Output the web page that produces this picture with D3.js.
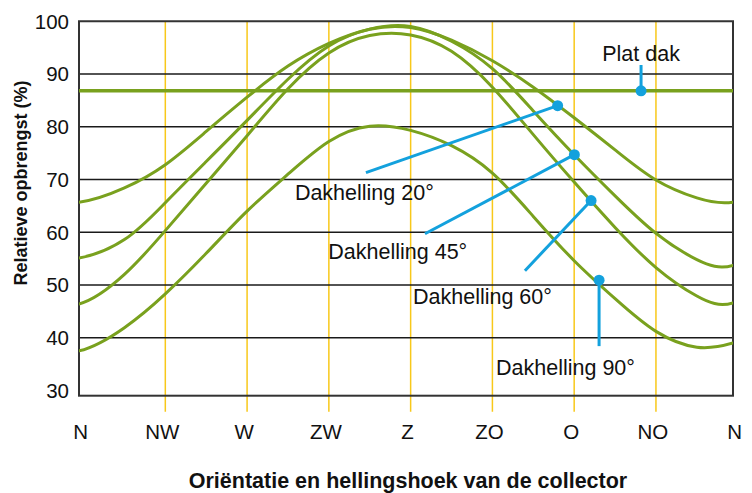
<!DOCTYPE html>
<html>
<head>
<meta charset="utf-8">
<script src="https://cdn.jsdelivr.net/npm/d3@7"></script>
<style>
  body { margin: 0; background: #fff; }
  text { font-family: "Liberation Sans", Arial, sans-serif; }
</style>
</head>
<body>
<div id="chart-area"></div>
<script>
// compass angle: 0 = N, 90 = W, 180 = Z, 270 = O, 360 = N
const directions = ["N", "NW", "W", "ZW", "Z", "ZO", "O", "NO", "N"];
const directionAngles = [0, 45, 90, 135, 180, 225, 270, 315, 360];
const yTicks = [30, 40, 50, 60, 70, 80, 90, 100];

// first and last points lie just outside the frame (wrap-around of the compass)
const angles = [-22.5, -2.5, 22.5, 45, 67.5, 90, 112.5, 135, 157.5, 180, 202.5, 225, 247.5, 270, 292.5, 315, 337.5, 357.4, 382.5];
const dak20 = [66.5, 65.7, 68.4, 72.8, 79.1, 85.6, 91.5, 95.8, 98.5, 98.8, 96.4, 92.5, 87.5, 81.7, 75.6, 69.9, 66.5, 65.7, 68.4];
const dak45 = [55.0, 55.1, 58.6, 65.6, 73.4, 81.2, 89.0, 95.3, 98.5, 99.0, 96.2, 91.0, 83.0, 74.7, 66.9, 59.8, 54.8, 53.7, 58.6];
const dak60 = [47.5, 46.4, 52.0, 60.3, 69.3, 78.3, 87.2, 94.0, 97.3, 97.4, 94.3, 87.5, 78.5, 69.5, 60.9, 53.3, 47.9, 46.6, 52.0];
const dak90 = [38.2, 37.5, 41.9, 48.3, 56.0, 64.0, 71.0, 77.2, 80.1, 79.3, 76.4, 71.2, 63.0, 54.6, 47.4, 41.2, 38.2, 39.0, 41.9];
const platDak = 86.8;

// callouts: point on the curve, end of the pointer line, label anchor (all in angle / %)
const callouts = [
  {label: "Plat dak",       dot: [306.8, 86.8], end: [306.8, 91.7], text: [306.8, 92.4], anchor: "middle"},
  {label: "Dakhelling 20°", dot: [260.9, 84.0], end: [155.4, 71.3], text: [116.3, 66.2], anchor: "start"},
  {label: "Dakhelling 45°", dot: [270.1, 74.7], end: [187.9, 59.7], text: [134.7, 55.0], anchor: "start"},
  {label: "Dakhelling 60°", dot: [279.3, 66.0], end: [242.9, 52.7], text: [181.3, 46.3], anchor: "start"},
  {label: "Dakhelling 90°", dot: [283.7, 50.9], end: [283.7, 38.4], text: [227.0, 32.9], anchor: "start"}
];

const canvasWidth = 752;
const canvasHeight = 493;

const green = "#79a11e";
const blue = "#13a1dd";
const yellow = "#f8c81a";

const scaleX = d3.scaleLinear().domain([-2.5, 357.4]).range([79, 733]);
const scaleY = d3.scaleLinear().domain([29, 100]).range([395.7, 21.25]);

const canvas = d3.select("#chart-area").append("svg").attr("width", canvasWidth).attr("height", canvasHeight);

const plotLeft = scaleX.range()[0], plotRight = scaleX.range()[1];
const plotTop = scaleY.range()[1], plotBottom = scaleY.range()[0];

// yellow verticals (run a bit below the frame)
canvas.append("g").selectAll("line")
  .data(directionAngles.filter(a => a > 0 && a < 360))
  .join("line")
  .attr("x1", a => scaleX(a)).attr("x2", a => scaleX(a))
  .attr("y1", plotTop).attr("y2", plotBottom + 16)
  .attr("stroke", yellow).attr("stroke-width", 1.5);

// black horizontals
canvas.append("g").selectAll("line")
  .data(yTicks.filter(v => v > 30 && v < 100))
  .join("line")
  .attr("x1", plotLeft).attr("x2", plotRight)
  .attr("y1", v => scaleY(v)).attr("y2", v => scaleY(v))
  .attr("stroke", "#1a1a1a").attr("stroke-width", 1.6);

canvas.append("rect")
  .attr("x", plotLeft).attr("y", plotTop)
  .attr("width", plotRight - plotLeft).attr("height", plotBottom - plotTop)
  .attr("fill", "none").attr("stroke", "#333").attr("stroke-width", 2);

canvas.append("clipPath").attr("id", "plot-clip")
  .append("rect").attr("x", plotLeft).attr("y", plotTop).attr("width", plotRight - plotLeft).attr("height", plotBottom - plotTop);

const line = d3.line()
  .x((d, i) => scaleX(angles[i]))
  .y(d => scaleY(d))
  .curve(d3.curveNatural);

const curves = canvas.append("g").attr("clip-path", "url(#plot-clip)");

curves.append("line")
  .attr("x1", plotLeft).attr("x2", plotRight)
  .attr("y1", scaleY(platDak)).attr("y2", scaleY(platDak))
  .attr("stroke", green).attr("stroke-width", 3.5);

curves.selectAll("path")
  .data([dak20, dak45, dak60, dak90])
  .join("path")
  .attr("d", line)
  .attr("fill", "none")
  .attr("stroke", green)
  .attr("stroke-width", 3);

// callouts
const notes = canvas.append("g");
callouts.forEach(c => {
  notes.append("line")
    .attr("x1", scaleX(c.dot[0])).attr("y1", scaleY(c.dot[1]))
    .attr("x2", scaleX(c.end[0])).attr("y2", scaleY(c.end[1]))
    .attr("stroke", blue).attr("stroke-width", 3);
  notes.append("circle")
    .attr("cx", scaleX(c.dot[0])).attr("cy", scaleY(c.dot[1]))
    .attr("r", 5.5).attr("fill", blue);
  notes.append("text")
    .attr("x", scaleX(c.text[0])).attr("y", scaleY(c.text[1]))
    .attr("text-anchor", c.anchor)
    .attr("font-size", "21.5px")
    .attr("fill", "#111")
    .text(c.label);
});

// y tick labels
canvas.append("g").selectAll("text")
  .data(yTicks)
  .join("text")
  .attr("x", plotLeft - 10)
  .attr("y", v => scaleY(v))
  .attr("dy", "0.36em")
  .attr("text-anchor", "end")
  .attr("font-size", "20.5px")
  .attr("fill", "#111")
  .text(v => v);

// x tick labels
canvas.append("g").selectAll("text")
  .data(directions)
  .join("text")
  .attr("x", (d, i) => scaleX(directionAngles[i]) - 3)
  .attr("y", 432)
  .attr("dy", "0.36em")
  .attr("text-anchor", "middle")
  .attr("font-size", "20.5px")
  .attr("fill", "#111")
  .text(d => d);

canvas.append("text")
  .attr("x", 408).attr("y", 487.5)
  .attr("text-anchor", "middle")
  .attr("font-size", "21.5px")
  .attr("font-weight", "bold")
  .attr("fill", "#111")
  .text("Oriëntatie en hellingshoek van de collector");

canvas.append("text")
  .attr("transform", "translate(27, 183) rotate(-90)")
  .attr("text-anchor", "middle")
  .attr("font-size", "18px")
  .attr("font-weight", "bold")
  .attr("fill", "#111")
  .text("Relatieve opbrengst (%)");
</script>
</body>
</html>
